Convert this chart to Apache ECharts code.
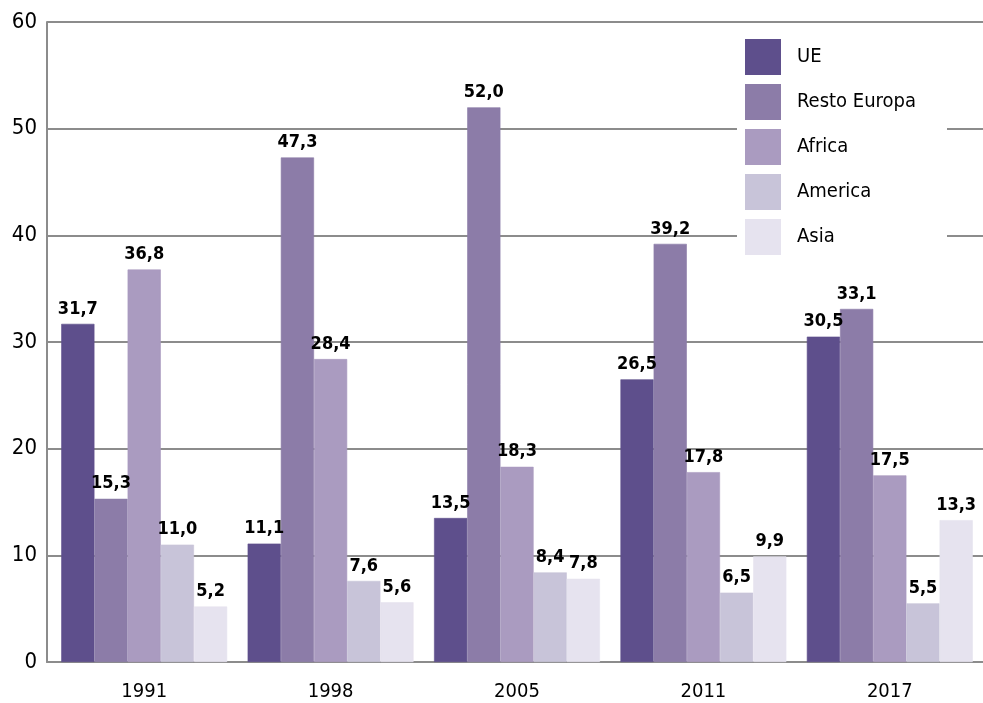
<!DOCTYPE html>
<html>
<head>
<meta charset="utf-8">
<script src="https://cdn.jsdelivr.net/npm/echarts@6/dist/echarts.min.js"></script>
<style>
  html, body { margin: 0; padding: 0; background: #fff; }
  #chart { width: 983px; height: 703px; }
</style>
</head>
<body>
<div id="chart"></div>
<script>
// Years on the category axis
const years = ['1991', '1998', '2005', '2011', '2017'];

// Share per origin region, one array per series
const ue = [31.7, 11.1, 13.5, 26.5, 30.5];
const restoEuropa = [15.3, 47.3, 52.0, 39.2, 33.1];
const africa = [36.8, 28.4, 18.3, 17.8, 17.5];
const america = [11.0, 7.6, 8.4, 6.5, 5.5];
const asia = [5.2, 5.6, 7.8, 9.9, 13.3];

// Value axis ticks
const yTicks = { min: 0, max: 60, step: 10 };

const seriesNames = ['UE', 'Resto Europa', 'Africa', 'America', 'Asia'];
const seriesData = [ue, restoEuropa, africa, america, asia];
const palette = ['#5e4f8c', '#8c7ca8', '#aa9bc0', '#c8c4d9', '#e6e3ef'];

const FONT = '"Liberation Sans Narrow", "DejaVu Sans Condensed", "Liberation Sans", sans-serif';
const LINE = '#8c8c8c';

const chart = echarts.init(document.getElementById('chart'), null, { renderer: 'canvas' });

const series = seriesNames.map((name, i) => ({
  name: name,
  type: 'bar',
  xAxisIndex: 1,
  yAxisIndex: 1,
  data: seriesData[i],
  barGap: '0%',
  barCategoryGap: '11%',
  // a hairline border in the fill colour closes the seams between touching bars
  itemStyle: { color: palette[i], borderColor: palette[i], borderWidth: 0.6 },
  label: {
    show: true,
    position: 'top',
    distance: 6,
    fontFamily: FONT,
    fontWeight: 'bold',
    fontSize: 18,
    color: '#000',
    formatter: p => p.value.toFixed(1).replace('.', ',')
  }
}));

chart.setOption({
  animation: false,
  backgroundColor: '#fff',
  color: palette,
  // grid 0 carries the frame and gridlines, grid 1 carries the bars
  grid: [
    { left: 47, right: 0, top: 22, bottom: 41 },
    { left: 51, right: -3, top: 22, bottom: 41 }
  ],
  legend: {
    orient: 'vertical',
    left: 737,
    top: 28,
    padding: [11, 31, 10, 8],
    backgroundColor: '#fff',
    itemWidth: 36,
    itemHeight: 36,
    itemGap: 9,
    icon: 'rect',
    itemStyle: { borderWidth: 0 },
    textStyle: { fontFamily: FONT, fontSize: 20, color: '#000', padding: [0, 0, 0, 11] },
    data: seriesNames
  },
  xAxis: [
    {
      gridIndex: 0,
      type: 'value',
      min: 0,
      max: 1,
      axisLine: { show: true, onZero: false, lineStyle: { color: LINE, width: 2 } },
      axisTick: { show: false },
      axisLabel: { show: false },
      splitLine: { show: false }
    },
    {
      gridIndex: 1,
      type: 'category',
      data: years,
      axisLine: { show: false },
      axisTick: { show: false },
      axisLabel: { fontFamily: FONT, fontSize: 20, color: '#000', margin: 20 }
    }
  ],
  yAxis: [
    {
      gridIndex: 0,
      type: 'value',
      min: yTicks.min,
      max: yTicks.max,
      interval: yTicks.step,
      axisLine: { show: true, lineStyle: { color: LINE, width: 2 } },
      axisTick: { show: false },
      splitLine: { show: true, lineStyle: { color: LINE, width: 2 } },
      axisLabel: { fontFamily: FONT, fontSize: 22, color: '#000', margin: 10 }
    },
    {
      gridIndex: 1,
      type: 'value',
      min: yTicks.min,
      max: yTicks.max,
      interval: yTicks.step,
      show: false,
      splitLine: { show: false }
    }
  ],
  series: series
});
</script>
</body>
</html>
